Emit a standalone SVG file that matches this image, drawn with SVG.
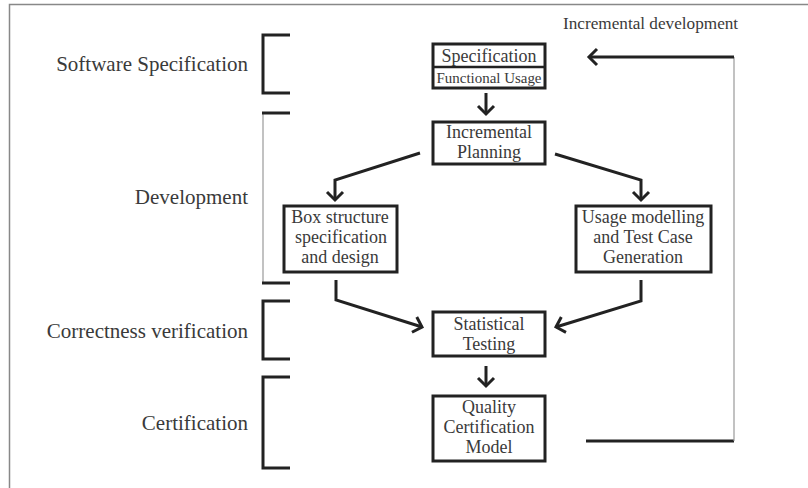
<svg xmlns="http://www.w3.org/2000/svg" width="808" height="488" viewBox="0 0 808 488">
<defs>
<style>
.t{font-family:"Liberation Serif","Times New Roman",serif;fill:#3a3a3a;}
.lbl{font-size:21px;text-anchor:end;}
.nt{font-size:18px;text-anchor:middle;}
.box{fill:#fff;stroke:#222;stroke-width:3;}
.c{fill:none;stroke:#222;stroke-width:3;stroke-linejoin:miter;}
.br{fill:none;stroke:#222;stroke-width:3;}
.thin{fill:none;stroke:#999;stroke-width:1.2;}
</style>
<marker id="ah" markerUnits="userSpaceOnUse" markerWidth="22" markerHeight="22" refX="11" refY="11" orient="auto" viewBox="0 0 22 22">
<path d="M3,3 L11,11 L3,19" fill="none" stroke="#222" stroke-width="3"/>
</marker>
</defs>
<rect width="808" height="488" fill="#fff"/>
<path d="M9.5,488 V4.5 H808" fill="none" stroke="#888" stroke-width="1.5"/>

<g id="phases">
<text class="t lbl" x="248" y="71">Software Specification</text>
<text class="t lbl" x="248" y="204">Development</text>
<text class="t lbl" x="248" y="338">Correctness verification</text>
<text class="t lbl" x="248" y="430">Certification</text>
<path class="br" d="M290,35 H263 V93 H290"/>
<path class="thin" d="M263,113 V283"/>
<path class="br" d="M262,113 H290 M262,283 H290"/>
<path class="br" d="M290,301 H263 V359 H290"/>
<path class="br" d="M290,377 H263 V468 H290"/>
<text class="t" x="563" y="29" font-size="17.2">Incremental development</text>
</g>

<g id="connectors">
<path class="c" d="M486,93 V114" marker-end="url(#ah)"/>
<path class="c" d="M420,153 L335,180 V200" marker-end="url(#ah)"/>
<path class="c" d="M555,154 L641,180 V200" marker-end="url(#ah)"/>
<path class="c" d="M336,280 V300 L422,327" marker-end="url(#ah)"/>
<path class="c" d="M641,280 V301 L556,327" marker-end="url(#ah)"/>
<path class="c" d="M486,366 V386" marker-end="url(#ah)"/>
<path class="c" d="M586,441 H734"/>
<path class="thin" d="M734,441 V57"/>
<path class="c" d="M734,57 H589" marker-end="url(#ah)"/>
</g>

<g id="spec">
<rect class="box" x="433" y="44" width="112" height="44"/>
<line x1="433" y1="67" x2="545" y2="67" stroke="#222" stroke-width="2.5"/>
<text class="t nt" x="489" y="62" font-size="18.5">Specification</text>
<text class="t" x="489" y="83" font-size="15" text-anchor="middle" textLength="105" lengthAdjust="spacingAndGlyphs">Functional Usage</text>
</g>
<g id="planning">
<rect class="box" x="433" y="122" width="112" height="42"/>
<text class="t nt" x="489" y="138">Incremental</text>
<text class="t nt" x="489" y="158">Planning</text>
</g>
<g id="box-structure">
<rect class="box" x="284" y="206" width="113" height="66"/>
<text class="t nt" x="340" y="223">Box structure</text>
<text class="t nt" x="341" y="243">specification</text>
<text class="t nt" x="340" y="263">and design</text>
</g>
<g id="usage">
<rect class="box" x="576" y="206" width="135" height="66"/>
<text class="t nt" x="643" y="223">Usage modelling</text>
<text class="t nt" x="643" y="243">and Test Case</text>
<text class="t nt" x="643" y="263">Generation</text>
</g>
<g id="testing">
<rect class="box" x="433" y="312" width="112" height="44"/>
<text class="t nt" x="489" y="330">Statistical</text>
<text class="t nt" x="489" y="350">Testing</text>
</g>
<g id="quality">
<rect class="box" x="433" y="396" width="112" height="65"/>
<text class="t nt" x="489" y="413">Quality</text>
<text class="t nt" x="489" y="433">Certification</text>
<text class="t nt" x="489" y="453">Model</text>
</g>
</svg>
